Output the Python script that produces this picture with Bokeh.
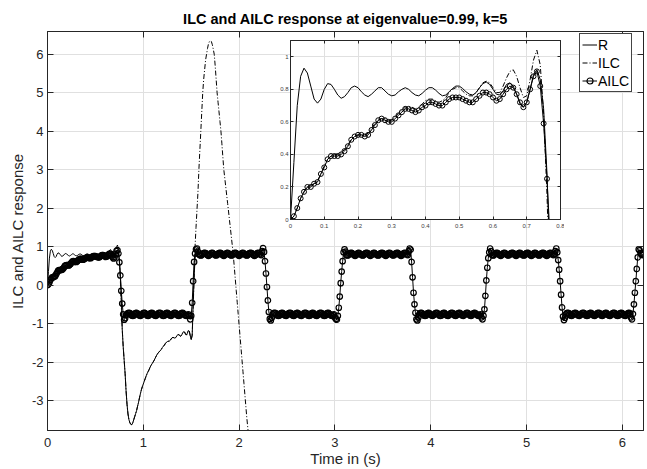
import numpy as np
from bokeh.plotting import figure
from bokeh.models import (ColumnDataSource, LinearAxis, FixedTicker, Legend,
                          LegendItem, Range1d, CustomLabelingPolicy, Title)
from bokeh.layouts import column
from bokeh.embed import file_html
from bokeh.resources import INLINE

# ---------------- data (sampled every DT seconds, starting at t = 0) ----------------
DT = 0.01

r_vals = [
    0.00, 0.35, 0.70, 0.88, 0.93, 0.90, 0.82, 0.74, 0.715, 0.74,
    0.80, 0.835, 0.83, 0.80, 0.765, 0.745, 0.755, 0.78, 0.81, 0.82,
    0.81, 0.785, 0.765, 0.755, 0.77, 0.79, 0.81, 0.81, 0.79, 0.77,
    0.76, 0.765, 0.785, 0.80, 0.81, 0.80, 0.78, 0.765, 0.76, 0.775,
    0.795, 0.81, 0.81, 0.795, 0.775, 0.76, 0.765, 0.785, 0.805, 0.82,
    0.82, 0.805, 0.785, 0.77, 0.765, 0.78, 0.81, 0.835, 0.845, 0.83,
    0.80, 0.77, 0.765, 0.79, 0.83, 0.84, 0.82, 0.77, 0.71, 0.69,
    0.72, 0.80, 0.89, 0.92, 0.86, 0.68, 0.28, -0.35,
    -1.15, -1.60,
    -1.95, -2.30, -2.75, -3.10, -3.35, -3.50, -3.58, -3.62, -3.63, -3.58,
    -3.50, -3.42, -3.34, -3.26, -3.15, -3.05, -2.93, -2.82, -2.72, -2.64,
    -2.57, -2.50, -2.43, -2.36, -2.30, -2.25, -2.20, -2.14, -2.09, -2.05,
    -2.01, -1.97, -1.92, -1.87, -1.82, -1.78, -1.75, -1.72, -1.70, -1.66,
    -1.62, -1.59, -1.56, -1.52, -1.49, -1.47, -1.46, -1.46, -1.44, -1.40,
    -1.37, -1.36, -1.37, -1.38, -1.36, -1.32, -1.29, -1.29, -1.31, -1.33,
    -1.30, -1.25, -1.21, -1.22, -1.27, -1.30, -1.25, -1.18, -1.20, -1.32,
    -1.42, -1.30, -0.50, 0.20, 0.70, 0.90, 0.93, 0.86,
]

ilc_vals = [
    0.00, 0.02, 0.07, 0.13, 0.17, 0.20, 0.21, 0.22, 0.24, 0.28,
    0.33, 0.37, 0.39, 0.40, 0.40, 0.41, 0.43, 0.46, 0.49, 0.51,
    0.52, 0.52, 0.52, 0.53, 0.56, 0.59, 0.61, 0.62, 0.62, 0.61,
    0.61, 0.63, 0.65, 0.67, 0.69, 0.69, 0.69, 0.68, 0.69, 0.71,
    0.73, 0.74, 0.74, 0.73, 0.72, 0.73, 0.75, 0.78, 0.80, 0.81,
    0.81, 0.79, 0.77, 0.76, 0.76, 0.78, 0.81, 0.84, 0.85, 0.84,
    0.81, 0.78, 0.78, 0.82, 0.87, 0.91, 0.92, 0.88, 0.81, 0.75,
    0.76, 0.86, 0.98, 1.04, 0.95, 0.65, 0.15, -0.55, -1.15, -1.60,
    -1.95, -2.30, -2.75, -3.10, -3.35, -3.50, -3.58, -3.62, -3.63, -3.58,
    -3.50, -3.42, -3.34, -3.26, -3.15, -3.05, -2.93, -2.82, -2.72, -2.64,
    -2.57, -2.50, -2.43, -2.36, -2.30, -2.25, -2.20, -2.14, -2.09, -2.05,
    -2.01, -1.97, -1.92, -1.87, -1.82, -1.78, -1.75, -1.72, -1.70, -1.66,
    -1.62, -1.59, -1.56, -1.52, -1.49, -1.47, -1.46, -1.46, -1.44, -1.40,
    -1.37, -1.36, -1.37, -1.38, -1.36, -1.32, -1.29, -1.29, -1.31, -1.33,
    -1.30, -1.25, -1.21, -1.22, -1.27, -1.30, -1.25, -1.18, -1.20, -1.32,
    -1.42, -1.30, -0.60, 0.20, 1.00, 1.50, 1.95, 2.40, 3.00, 3.50,
    4.00, 4.50, 5.00, 5.35, 5.60, 5.85, 6.00, 6.15, 6.27, 6.33,
    6.35, 6.33, 6.25, 6.13, 6.00, 5.70, 5.35, 5.00, 4.75, 4.50,
    4.25, 4.00, 3.67, 3.33, 3.00, 2.78, 2.56, 2.34, 2.12, 1.90,
    1.67, 1.45, 1.22, 1.00, 0.75, 0.45, 0.15, -0.15, -0.45, -0.75,
    -1.05, -1.35, -1.65, -1.95, -2.25, -2.55, -2.85, -3.15, -3.45, -3.70,
    -3.95, -4.20,
]

ailc_vals = [
    # 0.00 - 0.82
    0.00, 0.02, 0.07, 0.13, 0.17, 0.20, 0.20, 0.22, 0.23, 0.28,
    0.32, 0.37, 0.39, 0.39, 0.39, 0.40, 0.42, 0.45, 0.49, 0.51,
    0.52, 0.52, 0.51, 0.52, 0.55, 0.58, 0.61, 0.62, 0.61, 0.60,
    0.60, 0.62, 0.64, 0.66, 0.68, 0.68, 0.67, 0.66, 0.67, 0.69,
    0.70, 0.72, 0.72, 0.71, 0.70, 0.70, 0.72, 0.74, 0.75, 0.75,
    0.75, 0.74, 0.73, 0.72, 0.72, 0.74, 0.76, 0.78, 0.78, 0.77,
    0.75, 0.73, 0.74, 0.77, 0.80, 0.82, 0.81, 0.77, 0.72, 0.69,
    0.72, 0.80, 0.88, 0.91, 0.82, 0.59, 0.25, -0.15, -0.48, -0.76,
    -0.90, -0.86, -0.78,
    # 0.83 - 1.48
    -0.76, -0.73, -0.72, -0.73, -0.76, -0.79, -0.80, -0.79,
    -0.75, -0.73, -0.72, -0.74, -0.77, -0.79, -0.80, -0.78,
    -0.76, -0.73, -0.72, -0.73, -0.76, -0.79, -0.80, -0.79,
    -0.75, -0.73, -0.72, -0.74, -0.77, -0.79, -0.80, -0.78,
    -0.76, -0.73, -0.72, -0.73, -0.76, -0.79, -0.80, -0.79,
    -0.75, -0.73, -0.72, -0.74, -0.77, -0.79, -0.80, -0.78,
    -0.76, -0.73, -0.72, -0.73, -0.76, -0.79, -0.80, -0.79,
    -0.75, -0.73, -0.72, -0.74, -0.77, -0.79, -0.80, -0.78,
    -0.76, -0.80,
    # 1.49 - 1.58
    -0.89, -0.80, -0.46, 0.10, 0.60, 0.82, 0.93, 0.95, 0.87, 0.80,
    # 1.59 - 2.23
    0.78, 0.77, 0.78, 0.81, 0.83, 0.84, 0.83, 0.80,
    0.78, 0.76, 0.78, 0.80, 0.83, 0.84, 0.82, 0.80,
    0.78, 0.77, 0.78, 0.81, 0.83, 0.84, 0.83, 0.80,
    0.78, 0.76, 0.78, 0.80, 0.83, 0.84, 0.82, 0.80,
    0.78, 0.77, 0.78, 0.81, 0.83, 0.84, 0.83, 0.80,
    0.78, 0.76, 0.78, 0.80, 0.83, 0.84, 0.82, 0.80,
    0.78, 0.77, 0.78, 0.81, 0.83, 0.84, 0.83, 0.80,
    0.78, 0.76, 0.78, 0.80, 0.83, 0.84, 0.82, 0.80,
    0.78,
    # 2.24 - 2.34
    0.88, 0.96, 0.86, 0.62, 0.30, -0.05, -0.40, -0.70, -0.88, -0.92, -0.85,
    # 2.35 - 2.99
    -0.76, -0.73, -0.72, -0.73, -0.76, -0.79, -0.80, -0.79,
    -0.75, -0.73, -0.72, -0.74, -0.77, -0.79, -0.80, -0.78,
    -0.76, -0.73, -0.72, -0.73, -0.76, -0.79, -0.80, -0.79,
    -0.75, -0.73, -0.72, -0.74, -0.77, -0.79, -0.80, -0.78,
    -0.76, -0.73, -0.72, -0.73, -0.76, -0.79, -0.80, -0.79,
    -0.75, -0.73, -0.72, -0.74, -0.77, -0.79, -0.80, -0.78,
    -0.76, -0.73, -0.72, -0.73, -0.76, -0.79, -0.80, -0.79,
    -0.75, -0.73, -0.72, -0.74, -0.77, -0.79, -0.80, -0.78,
    -0.76,
    # 3.00 - 3.11
    -0.84, -0.88, -0.90, -0.80, -0.59, -0.30, 0.05, 0.35, 0.62, 0.85, 0.93, 0.87,
    # 3.12 - 3.76
    0.78, 0.77, 0.78, 0.81, 0.83, 0.84, 0.83, 0.80,
    0.78, 0.76, 0.78, 0.80, 0.83, 0.84, 0.82, 0.80,
    0.78, 0.77, 0.78, 0.81, 0.83, 0.84, 0.83, 0.80,
    0.78, 0.76, 0.78, 0.80, 0.83, 0.84, 0.82, 0.80,
    0.78, 0.77, 0.78, 0.81, 0.83, 0.84, 0.83, 0.80,
    0.78, 0.76, 0.78, 0.80, 0.83, 0.84, 0.82, 0.80,
    0.78, 0.77, 0.78, 0.81, 0.83, 0.84, 0.83, 0.80,
    0.78, 0.76, 0.78, 0.80, 0.83, 0.84, 0.82, 0.80,
    0.78,
    # 3.77 - 3.87
    0.88, 0.95, 0.92, 0.60, 0.20, -0.20, -0.50, -0.72, -0.89, -0.92, -0.84,
    # 3.88 - 4.52
    -0.76, -0.73, -0.72, -0.73, -0.76, -0.79, -0.80, -0.79,
    -0.75, -0.73, -0.72, -0.74, -0.77, -0.79, -0.80, -0.78,
    -0.76, -0.73, -0.72, -0.73, -0.76, -0.79, -0.80, -0.79,
    -0.75, -0.73, -0.72, -0.74, -0.77, -0.79, -0.80, -0.78,
    -0.76, -0.73, -0.72, -0.73, -0.76, -0.79, -0.80, -0.79,
    -0.75, -0.73, -0.72, -0.74, -0.77, -0.79, -0.80, -0.78,
    -0.76, -0.73, -0.72, -0.73, -0.76, -0.79, -0.80, -0.79,
    -0.75, -0.73, -0.72, -0.74, -0.77, -0.79, -0.80, -0.78,
    -0.76,
    # 4.53 - 4.63
    -0.84, -0.89, -0.80, -0.63, -0.28, 0.12, 0.45, 0.70, 0.85, 0.95, 0.88,
    # 4.64 - 5.29
    0.78, 0.77, 0.78, 0.81, 0.83, 0.84, 0.83, 0.80,
    0.78, 0.76, 0.78, 0.80, 0.83, 0.84, 0.82, 0.80,
    0.78, 0.77, 0.78, 0.81, 0.83, 0.84, 0.83, 0.80,
    0.78, 0.76, 0.78, 0.80, 0.83, 0.84, 0.82, 0.80,
    0.78, 0.77, 0.78, 0.81, 0.83, 0.84, 0.83, 0.80,
    0.78, 0.76, 0.78, 0.80, 0.83, 0.84, 0.82, 0.80,
    0.78, 0.77, 0.78, 0.81, 0.83, 0.84, 0.83, 0.80,
    0.78, 0.76, 0.78, 0.80, 0.83, 0.84, 0.82, 0.80,
    0.78, 0.80,
    # 5.30 - 5.40
    0.88, 0.95, 0.85, 0.65, 0.40, 0.10, -0.25, -0.58, -0.82, -0.91, -0.85,
    # 5.41 - 6.08
    -0.76, -0.73, -0.72, -0.73, -0.76, -0.79, -0.80, -0.79,
    -0.75, -0.73, -0.72, -0.74, -0.77, -0.79, -0.80, -0.78,
    -0.76, -0.73, -0.72, -0.73, -0.76, -0.79, -0.80, -0.79,
    -0.75, -0.73, -0.72, -0.74, -0.77, -0.79, -0.80, -0.78,
    -0.76, -0.73, -0.72, -0.73, -0.76, -0.79, -0.80, -0.79,
    -0.75, -0.73, -0.72, -0.74, -0.77, -0.79, -0.80, -0.78,
    -0.76, -0.73, -0.72, -0.73, -0.76, -0.79, -0.80, -0.79,
    -0.75, -0.73, -0.72, -0.74, -0.77, -0.79, -0.80, -0.78,
    -0.76, -0.73, -0.72, -0.75,
    # 6.09 - 6.22
    -0.84, -0.89, -0.75, -0.50, -0.20, 0.10, 0.42, 0.72, 0.93, 0.90,
    0.83, 0.79, 0.78, 0.80,
]

series_names = ["R", "ILC", "AILC"]
title_text = "ILC and AILC response at eigenvalue=0.99, k=5"

x_ticks = [0, 1, 2, 3, 4, 5, 6]
x_tick_labels = ["0", "1", "2", "3", "4", "5", "6"]
y_ticks = [-3, -2, -1, 0, 1, 2, 3, 4, 5, 6]
y_tick_labels = ["-3", "-2", "-1", "0", "1", "2", "3", "4", "5", "6"]
inset_x_ticks = [0, 0.1, 0.2, 0.3, 0.4, 0.5, 0.6, 0.7, 0.8]
inset_x_labels = ["0", "0.1", "0.2", "0.3", "0.4", "0.5", "0.6", "0.7", "0.8"]
inset_y_ticks = [0, 0.2, 0.4, 0.6, 0.8, 1]
inset_y_labels = ["0", "0.2", "0.4", "0.6", "0.8", "1"]


def times(vals):
    return np.round(np.arange(len(vals)) * DT, 2)


src_r = ColumnDataSource(dict(t=times(r_vals), y=r_vals))
src_i = ColumnDataSource(dict(t=times(ilc_vals), y=ilc_vals))
src_a = ColumnDataSource(dict(t=times(ailc_vals), y=ailc_vals))

FONT = "Liberation Sans"
AX = "#262626"
GRID = "#e0e0e0"
DASHDOT = "5 2 1 2"

HIDE_LABELS = """
for (const i of indices) { indices.unset(i) }
return indices
"""


def style_axis(ax, tick_len, label_size, show_labels=True):
    ax.major_tick_in = tick_len
    ax.major_tick_out = 0
    ax.minor_tick_in = 0
    ax.minor_tick_out = 0
    ax.axis_line_color = AX
    ax.major_tick_line_color = AX
    ax.major_label_text_font = FONT
    ax.major_label_text_color = AX
    ax.major_label_text_font_size = label_size
    if not show_labels:
        ax.major_label_policy = CustomLabelingPolicy(code=HIDE_LABELS)
        ax.major_label_text_font_size = "1px"
        ax.major_label_standoff = 0
        ax.axis_label_standoff = 0


# ---------------- main figure ----------------
p = figure(width=647, height=469, output_backend="svg", toolbar_location=None,
           x_range=Range1d(0, 6.22), y_range=Range1d(-3.78, 6.59),
           min_border_left=47, min_border_right=3, min_border_top=29,
           min_border_bottom=39,
           x_axis_label="Time in (s)", y_axis_label="ILC and AILC response")
p.background_fill_color = "white"
p.border_fill_color = "white"
p.outline_line_color = AX
# the built-in title is emptied; the real title is added below with a spacer above it
p.title.text = ""
p.title.text_font_size = "1px"
p.title.standoff = 0

xa = p.xaxis[0]
ya = p.yaxis[0]
xa.ticker = FixedTicker(ticks=x_ticks)
ya.ticker = FixedTicker(ticks=y_ticks)
xa.major_label_overrides = dict(zip(x_ticks, x_tick_labels))
ya.major_label_overrides = dict(zip(y_ticks, y_tick_labels))
style_axis(xa, 6, "13px")
style_axis(ya, 6, "13px")
xa.major_label_standoff = 7
ya.major_label_standoff = 4
for ax in (xa, ya):
    ax.axis_label_text_font = FONT
    ax.axis_label_text_font_size = "15px"
    ax.axis_label_text_font_style = "normal"
    ax.axis_label_text_color = AX
xa.axis_label_standoff = 0
ya.axis_label_standoff = 3

top_ax = LinearAxis(ticker=FixedTicker(ticks=x_ticks))
style_axis(top_ax, 6, "13px", show_labels=False)
p.add_layout(top_ax, "above")
right_ax = LinearAxis(ticker=FixedTicker(ticks=y_ticks))
style_axis(right_ax, 6, "13px", show_labels=False)
p.add_layout(right_ax, "right")

main_title = Title(text=title_text, align="center", text_font=FONT,
                   text_font_size="14.5px", text_font_style="bold",
                   text_color="black", standoff=2)
p.add_layout(main_title, "above")
spacer = Title(text=" ", text_font_size="4px", standoff=0)
p.add_layout(spacer, "above")

p.xgrid.grid_line_color = GRID
p.ygrid.grid_line_color = GRID

lr = p.line("t", "y", source=src_r, line_color="black", line_width=1)
li = p.line("t", "y", source=src_i, line_color="black", line_width=1,
            line_dash=DASHDOT)
la = p.line("t", "y", source=src_a, line_color="black", line_width=1)
sa = p.scatter("t", "y", source=src_a, marker="circle", size=5.5,
               fill_color=None, line_color="black", line_width=1.2)

legend = Legend(items=[LegendItem(label=series_names[0], renderers=[lr]),
                       LegendItem(label=series_names[1], renderers=[li]),
                       LegendItem(label=series_names[2], renderers=[la, sa])],
                location=(532, 338))
legend.border_line_color = "#444444"
legend.border_line_width = 1
legend.border_line_alpha = 1
legend.background_fill_color = "white"
legend.background_fill_alpha = 1
legend.label_text_font = FONT
legend.label_text_font_size = "14px"
legend.label_text_color = "black"
legend.glyph_width = 15
legend.glyph_height = 17
legend.label_height = 17
legend.label_standoff = 1
legend.padding = 2
legend.spacing = 1
legend.margin = 0
p.add_layout(legend)

# ---------------- inset figure ----------------
INSET_LEFT_BORDER = 47
ins = figure(width=INSET_LEFT_BORDER + 271 + 3, height=199, output_backend="svg",
             toolbar_location=None,
             x_range=Range1d(0, 0.8), y_range=Range1d(0, 1.1),
             min_border_left=INSET_LEFT_BORDER, min_border_right=3,
             min_border_top=5, min_border_bottom=15,
             styles={"position": "absolute", "left": f"{290 - INSET_LEFT_BORDER}px",
                     "top": "35px", "z-index": "2"})
ins.border_fill_color = None
ins.background_fill_color = "white"
ins.outline_line_color = AX

ixa = ins.xaxis[0]
iya = ins.yaxis[0]
ixa.ticker = FixedTicker(ticks=inset_x_ticks)
iya.ticker = FixedTicker(ticks=inset_y_ticks)
ixa.major_label_overrides = dict(zip(inset_x_ticks, inset_x_labels))
iya.major_label_overrides = dict(zip(inset_y_ticks, inset_y_labels))
style_axis(ixa, 3, "6px")
style_axis(iya, 3, "6px")
ixa.major_label_standoff = 4
iya.major_label_standoff = 2
ixa.major_label_text_color = "#404040"
iya.major_label_text_color = "#404040"

itop = LinearAxis(ticker=FixedTicker(ticks=inset_x_ticks))
style_axis(itop, 3, "6px", show_labels=False)
ins.add_layout(itop, "above")
iright = LinearAxis(ticker=FixedTicker(ticks=inset_y_ticks))
style_axis(iright, 3, "6px", show_labels=False)
ins.add_layout(iright, "right")

ins.xgrid.grid_line_color = GRID
ins.ygrid.grid_line_color = GRID

ins.line("t", "y", source=src_r, line_color="black", line_width=1)
ins.line("t", "y", source=src_i, line_color="black", line_width=1,
         line_dash=DASHDOT)
ins.line("t", "y", source=src_a, line_color="black", line_width=1)
ins.scatter("t", "y", source=src_a, marker="circle", size=5,
            fill_color=None, line_color="black", line_width=1)

layout = column(p, ins, styles={"position": "relative"})

open("out.html", "w").write(file_html(layout, INLINE))
